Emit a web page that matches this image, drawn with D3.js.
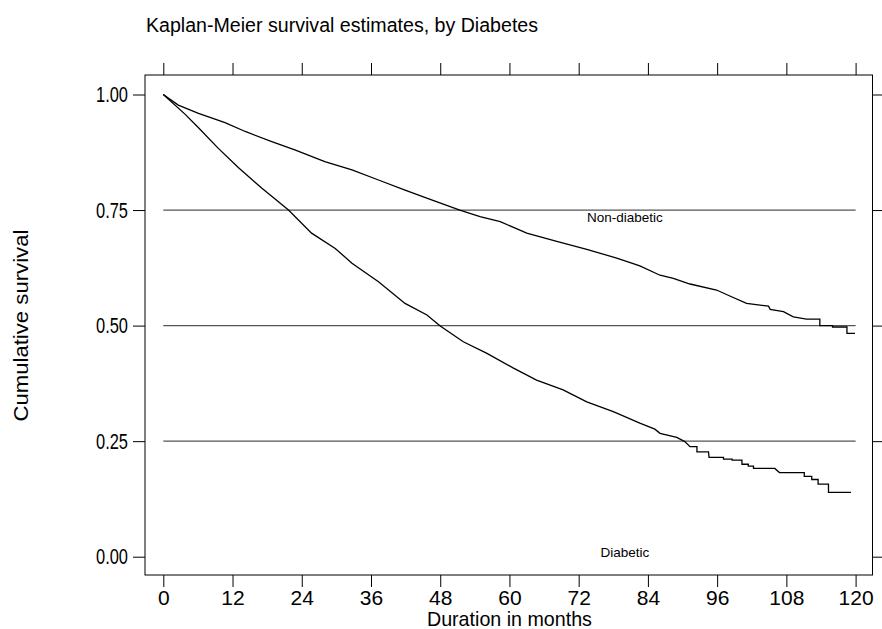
<!DOCTYPE html>
<meta charset="utf-8">
<style>
body { margin: 0; background: #fff; }
svg { display: block; font-family: "Liberation Sans", Arial, sans-serif; }
.axis path { display: none; }
.axis line { stroke: #000; }
.grid { stroke: #555; stroke-width: 1.2px; }
.curve { fill: none; stroke: #000; stroke-width: 1.3px; }
</style>
<body>
<script src="https://d3js.org/d3.v7.min.js"></script>
<script>

// months since diagnosis, cumulative survival
var nonDiabetic = [
  [0,1],[2.6,0.977],[6.1,0.959],[10.7,0.939],[14.2,0.92],[18.8,0.898],[22.8,0.88],
  [28,0.855],[32.7,0.837],[37.3,0.815],[41.9,0.793],[46.5,0.772],[51.4,0.75],
  [54.9,0.736],[58.4,0.725],[63,0.70],[68.2,0.682],[73.4,0.665],[78.6,0.646],
  [82.6,0.629],[86.1,0.609],[88.4,0.602],[91.3,0.59],[95.9,0.577],[98.2,0.564],
  [101.1,0.548],[104.9,0.542],[105.2,0.535],[107.5,0.53],[109.2,0.519],[111.5,0.514],
  [113.8,0.514],[113.8,0.50],[116,0.50],[116,0.497],[118.5,0.497],[118.5,0.483],[119.9,0.483]
];
var diabetic = [
  [0,1],[3.8,0.957],[6.1,0.928],[9.5,0.884],[13,0.842],[17.1,0.797],[21.7,0.75],
  [25.7,0.70],[29.8,0.667],[32.7,0.635],[37.3,0.595],[41.9,0.548],[45.7,0.523],
  [48,0.499],[52,0.465],[56.1,0.44],[60.7,0.408],[64.7,0.382],[69.3,0.361],
  [73.4,0.335],[78,0.314],[82.6,0.289],[85.2,0.276],[86.1,0.267],[89,0.258],
  [90.4,0.249],[91.3,0.238],[92.5,0.238],[92.5,0.227],[94.5,0.227],[94.6,0.215],
  [97.1,0.215],[97.1,0.211],[98.6,0.211],[98.6,0.209],[100.3,0.209],[100.3,0.200],
  [101.4,0.200],[101.4,0.196],[102.3,0.196],[102.3,0.191],[106,0.191],[106.8,0.182],
  [111.1,0.182],[111.1,0.174],[112.4,0.174],[112.4,0.167],[113.5,0.167],[113.5,0.157],
  [115.3,0.157],[115.3,0.139],[119.2,0.139]
];
var xTicks = [0,12,24,36,48,60,72,84,96,108,120];
var yTicks = [0,0.25,0.5,0.75,1];
var refLines = [0.25,0.5,0.75];
var groupLabels = ["Non-diabetic","Diabetic"];
var labelAt = [[80,0.724],[80,0.0]];

var width = 882, height = 629;
var frame = {left: 145, right: 872.5, top: 75, bottom: 575};

var x = d3.scaleLinear().domain([0,120]).range([163.3,855.6]);
var y = d3.scaleLinear().domain([0,1]).range([556.7,94.5]);

var svg = d3.select("body").append("svg")
    .attr("width", width)
    .attr("height", height);

svg.append("text")
    .attr("x", 146)
    .attr("y", 31.5)
    .attr("font-size", "19.6px")
    .text("Kaplan-Meier survival estimates, by Diabetes");

// reference lines
svg.selectAll(".grid").data(refLines).enter().append("line")
    .attr("class", "grid")
    .attr("x1", x(0)).attr("x2", x(120))
    .attr("y1", function(d) { return y(d); })
    .attr("y2", function(d) { return y(d); });

// frame
svg.append("rect")
    .attr("x", frame.left).attr("y", frame.top)
    .attr("width", frame.right - frame.left)
    .attr("height", frame.bottom - frame.top)
    .attr("fill", "none").attr("stroke", "#000");

// axes
var yAxis = svg.append("g").attr("class", "axis")
    .attr("transform", "translate(" + frame.left + ",0)")
    .call(d3.axisLeft(y).tickValues(yTicks).tickFormat(d3.format(".2f")).tickSize(12).tickPadding(5))
    .attr("font-size", "22px").attr("font-family", null);
// labels in the original are narrow, so squeeze them a bit
yAxis.selectAll("text")
    .attr("textLength", 32)
    .attr("lengthAdjust", "spacingAndGlyphs");

svg.append("g").attr("class", "axis")
    .attr("transform", "translate(" + frame.right + ",0)")
    .call(d3.axisRight(y).tickValues(yTicks).tickFormat("").tickSize(12));
svg.append("g").attr("class", "axis")
    .attr("transform", "translate(0," + frame.bottom + ")")
    .call(d3.axisBottom(x).tickValues(xTicks).tickSize(12).tickPadding(3))
    .attr("font-size", "21px").attr("font-family", null);
svg.append("g").attr("class", "axis")
    .attr("transform", "translate(0," + frame.top + ")")
    .call(d3.axisTop(x).tickValues(xTicks).tickFormat("").tickSize(12));

svg.selectAll(".axis text").attr("fill", "#000");

// axis titles
svg.append("text")
    .attr("x", x(60)).attr("y", 626)
    .attr("text-anchor", "middle")
    .attr("font-size", "21px")
    .attr("textLength", 165)
    .attr("lengthAdjust", "spacingAndGlyphs")
    .text("Duration in months");
svg.append("text")
    .attr("transform", "translate(28," + y(0.5) + ") rotate(-90)")
    .attr("text-anchor", "middle")
    .attr("font-size", "21px")
    .attr("textLength", 192)
    .attr("lengthAdjust", "spacingAndGlyphs")
    .text("Cumulative survival");

// survival curves
var line = d3.line()
    .x(function(d) { return x(d[0]); })
    .y(function(d) { return y(d[1]); });

svg.selectAll(".curve").data([nonDiabetic, diabetic]).enter().append("path")
    .attr("class", "curve")
    .attr("d", line);

svg.selectAll(".glabel").data(groupLabels).enter().append("text")
    .attr("class", "glabel")
    .attr("x", function(d, i) { return x(labelAt[i][0]); })
    .attr("y", function(d, i) { return y(labelAt[i][1]); })
    .attr("text-anchor", "middle")
    .attr("font-size", "13.5px")
    .text(function(d) { return d; });

</script>
</body>
